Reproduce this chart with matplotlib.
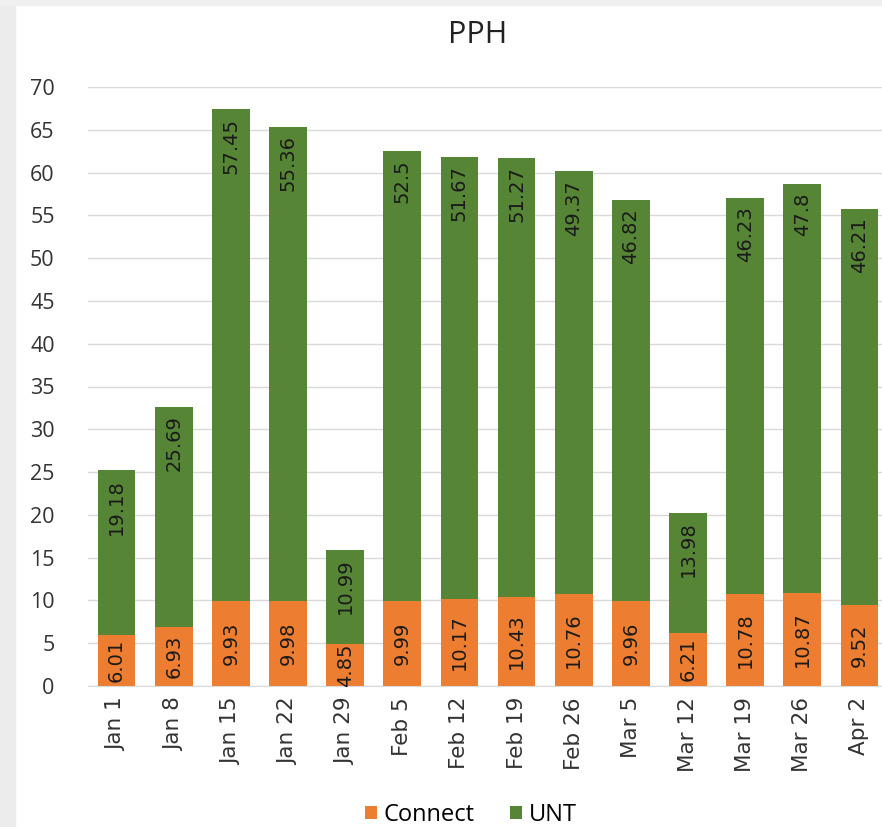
import matplotlib.pyplot as plt
from matplotlib.patches import Rectangle

# data
weeks = ["Jan 1", "Jan 8", "Jan 15", "Jan 22", "Jan 29", "Feb 5", "Feb 12",
         "Feb 19", "Feb 26", "Mar 5", "Mar 12", "Mar 19", "Mar 26", "Apr 2"]
connect = [6.01, 6.93, 9.93, 9.98, 4.85, 9.99, 10.17, 10.43, 10.76, 9.96,
           6.21, 10.78, 10.87, 9.52]
unt = [19.18, 25.69, 57.45, 55.36, 10.99, 52.5, 51.67, 51.27, 49.37, 46.82,
       13.98, 46.23, 47.8, 46.21]

plt.rcParams['font.family'] = ['Open Sans', 'DejaVu Sans']

orange = '#ED7D31'
green = '#568535'
narrow = ['DejaVu Sans']

fig = plt.figure(figsize=(8.82, 8.27), dpi=100)
# light grey frame strip on the left / top like the screenshot
fig.patches.append(Rectangle((0, 0), 15 / 882, 1, transform=fig.transFigure,
                             color='#ececec', zorder=0))
fig.patches.append(Rectangle((0, 1 - 5 / 827), 1, 5 / 827, transform=fig.transFigure,
                             color='#f0f0f0', zorder=0))

ax = fig.add_axes([88 / 882, 1 - 686 / 827, 800 / 882, 599 / 827])
x = range(len(weeks))
ax.bar(x, connect, width=0.66, color=orange, label='Connect', zorder=2)
ax.bar(x, unt, width=0.66, bottom=connect, color=green, label='UNT', zorder=2)

for i in x:
    ax.text(i, connect[i] / 2, f"{connect[i]:g}", rotation=90, ha='center',
            va='center', fontsize=14, color='#1a1a1a', zorder=3, family=narrow)
    ax.annotate(f"{unt[i]:g}", (i, connect[i] + unt[i]), xytext=(0, -6),
                textcoords='offset points', rotation=90, ha='center', va='top',
                fontsize=14, color='#1a1a1a', zorder=3, family=narrow)

ax.set_xlim(-0.5, 13.5)
ax.set_ylim(0, 70)
ax.set_yticks(range(0, 71, 5))
ax.set_xticks(list(x))
ax.set_xticklabels(weeks, rotation=90, fontsize=15.5, color='#333333', family=narrow)
ax.tick_params(axis='y', labelsize=15.5, colors='#333333', length=0, pad=24)
ax.tick_params(axis='x', length=0, pad=8)
ax.grid(axis='y', color='#d9d9d9', linewidth=1, zorder=0)
for s in ['top', 'right', 'left']:
    ax.spines[s].set_visible(False)
ax.spines['bottom'].set_color('#d9d9d9')

fig.text(478 / 882, 1 - 35 / 827, "PPH", ha='center', va='center', fontsize=22,
         color='#222222')

fig.legend(loc='center', bbox_to_anchor=(471 / 882, 1 - 815 / 827), ncol=2,
           frameon=False, fontsize=17, handlelength=0.5, handleheight=0.5,
           columnspacing=1.5, handletextpad=0.3)

fig.savefig('out.png', dpi=100)
